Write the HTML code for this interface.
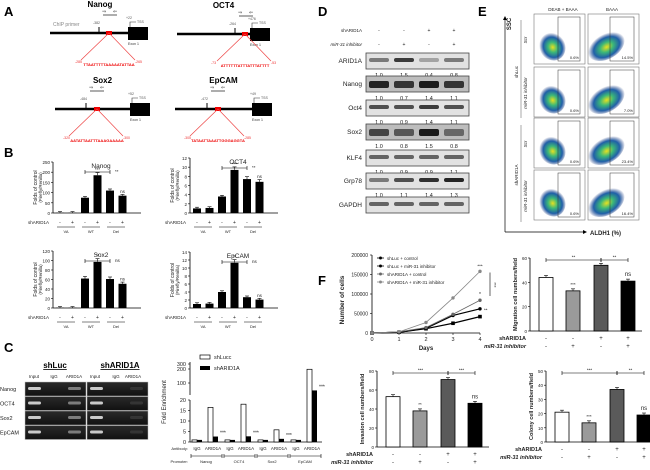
<!DOCTYPE html>
<html><head><meta charset="utf-8">
<style>
body{margin:0;background:#fff;}
svg{display:block;font-family:"Liberation Sans",sans-serif;}
</style></head><body>
<svg id="fig" width="650" height="470" viewBox="0 0 650 470" xmlns="http://www.w3.org/2000/svg">
<defs>
<radialGradient id="blob" cx="50%" cy="55%" r="50%">
<stop offset="0" stop-color="#e8e020"/><stop offset="0.35" stop-color="#3cb878"/><stop offset="0.7" stop-color="#1f5fa8"/><stop offset="1" stop-color="#1f3a80" stop-opacity="0"/>
</radialGradient>
<linearGradient id="gel" x1="0" y1="0" x2="0" y2="1"><stop offset="0" stop-color="#2a2a2a"/><stop offset="1" stop-color="#111"/></linearGradient>
</defs>
<g id="root"></g>
</svg>
<script>
// ---------- data ----------
const bLanes=["-","+","-","+","-","+"];
const bGroups=["VA","WT","Del"];
const nanogVals=[1,1,75,185,110,85];
const oct4Vals=[1,1.1,3.6,9.4,7.4,6.8];
const sox2Vals=[0.5,0.5,62,97,61,51];
const epcamVals=[1,1.1,4,11.3,2.7,2.1];
const cCats=["IgG","ARID1A","IgG","ARID1A","IgG","ARID1A","IgG","ARID1A"];
const cPromoters=["Nanog","OCT4","Sox2","EpCAM"];
const cShLuc=[1,16.5,1,18,1,5.8,1,245];
const cShARID=[1,2.6,1,2.7,1,1.5,1,60];
const blotRows=["ARID1A","Nanog","Oct4","Sox2","KLF4","Grp78","GAPDH"];
const blotNums=[[1.0,1.5,0.4,0.8],[1.0,0.7,1.4,1.1],[1.0,0.9,1.4,1.1],[1.0,0.8,1.5,0.8],[1.0,0.9,0.9,1.1],[1.0,1.1,1.4,1.3]];
const flowPct=[["0.6%","14.5%"],["0.6%","7.0%"],["0.6%","23.4%"],["0.6%","16.4%"]];
const days=[0,1,2,3,4];
const growthNames=["shLuc + control","shLuc + miR-31 inhibitor","shARID1A + control","shARID1A + miR-31 inhibitor"];
const growthShLucCtrl=[0,2000,12000,45000,62000];
const growthShLucMiR=[0,2000,11000,25000,42000];
const growthShARIDCtrl=[0,3000,14000,48000,84000];
const growthShARIDMiR=[0,3000,27000,90000,158000];
const migVals=[44,33,54,41];
const invVals=[53,38,71,46];
const colVals=[21,13.5,37,19];
const fSh=["-","-","+","+"];
const fMi=["-","+","-","+"];

const NS="http://www.w3.org/2000/svg";
const root=document.getElementById('root');
function el(tag,attrs,parent){const e=document.createElementNS(NS,tag);for(const k in attrs)e.setAttribute(k,attrs[k]);(parent||root).appendChild(e);return e;}
function tx(x,y,s,size,extra,parent){const e=el('text',Object.assign({x:x,y:y,'font-size':size||6,fill:'#222'},extra||{}),parent);e.textContent=s;return e;}
function ln(x1,y1,x2,y2,c,w,parent){return el('line',{x1:x1,y1:y1,x2:x2,y2:y2,stroke:c||'#000','stroke-width':w||1},parent);}

[["A",4,16],["B",4,157],["C",4,352],["D",318,16],["E",478,16],["F",318,285]].forEach(p=>{
 const t=tx(p[1],p[2],p[0],13,{'font-weight':'bold',fill:'#000'});
 
 
});

// ---------- Panel A ----------
function promoter(name,x0,x1,ly,exonX,redX,up,seq,l,r,pos){
 const g=el('g',{});
 
 
 tx((x0+x1)/2,ly-26,name,8,{'font-weight':'bold','text-anchor':'middle',fill:'#000'},g);
 ln(x0,ly,exonX,ly,'#000',2.5,g);
 el('rect',{x:exonX,y:ly-6,width:20,height:13,fill:'#000'},g);
 ln(up,ly,up,ly-6,'#000',1,g);
 tx(up-6,ly-9,pos[0],3.5,{fill:'#555'},g);
 tx(exonX-2,ly-14,pos[1],3.5,{fill:'#555'},g);
 el('polyline',{points:`${exonX+2},${ly-6} ${exonX+2},${ly-11} ${exonX+8},${ly-11}`,fill:'none',stroke:'#333','stroke-width':0.6},g);
 tx(exonX+9,ly-10,'TSS',3.5,{fill:'#555'},g);
 tx(exonX,ly+12,'Exon 1',3.5,{fill:'#333'},g);
 ln(up+4,ly-18,up+18,ly-18,'#333',0.8,g);
 tx(up+3,ly-20,'⇒',5,{fill:'#333'},g);tx(up+14,ly-20,'⇐',5,{fill:'#333'},g);
 el('rect',{x:redX-3,y:ly-2,width:6,height:4,fill:'#e00'},g);
 ln(redX,ly,redX-28,ly+27,'#e44',0.7,g);ln(redX,ly,redX+26,ly+27,'#e44',0.7,g);
 tx(redX-34,ly+30,l,3.5,{fill:'#e33'},g);tx(redX+26,ly+30,r,3.5,{fill:'#e33'},g);
 tx(redX,ly+33,seq,4,{fill:'#e00','text-anchor':'middle','font-weight':'bold'},g);
}
tx(53,26,'ChIP primer',5,{fill:'#888'});
promoter('Nanog',50,150,33,128,109,99,'TTAATTTTTAAAAATATTAA','-285','-265',['-382','+22']);
promoter('OCT4',177,270,34,250,245,235,'ATTTTTTATTTATTTATTTT','-73','-53',['-264','+476']);
promoter('Sox2',55,150,109,130,97,86,'AATATTAATTTAAAGAAAAA','-320','-300',['-484','+52']);
promoter('EpCAM',175,272,109,252,218,207,'TATAATTAAATTGGGAGGTA','-305','-285',['-472','+49']);

// ---------- Panel B ----------
function bChart(name,vals,ax,yTop,yBot,max,ticks,title,sig,xs){
 const g=el('g',{});
 
 
 const y=v=>yBot-(v/max)*(yBot-yTop);
 ln(ax,yTop,ax,yBot,'#000',0.8,g);ln(ax,yBot,ax+88,yBot,'#000',0.8,g);
 ticks.forEach(t=>{ln(ax-2,y(t),ax,y(t),'#000',0.6,g);tx(ax-3,y(t)+2,String(t),4.5,{'text-anchor':'end'},g);});
 tx(0,0,'Folds of control',5,{'text-anchor':'middle',transform:`translate(${ax-16},${(yTop+yBot)/2}) rotate(-90)`},g);
 tx(0,0,'(Firefly/Renilla)',4.5,{'text-anchor':'middle',transform:`translate(${ax-11},${(yTop+yBot)/2}) rotate(-90)`},g);
 tx(ax+48,yTop+6,title,6.5,{'text-anchor':'middle'},g);
 vals.forEach((v,i)=>{
  const cx=ax+7+i*12.5;
  const r=el('rect',{x:cx-4,y:y(v),width:8,height:yBot-y(v),fill:'#000'},g);
  
  
  const e=Math.max(1.2,(yBot-y(v))*0.07);
  ln(cx,y(v)-e,cx,y(v),'#000',0.6,g);ln(cx-2,y(v)-e,cx+2,y(v)-e,'#000',0.6,g);
  if(sig[i])tx(cx,y(v)-e-1.5,sig[i],4.5,{'text-anchor':'middle'},g);
 });
 const bx1=ax+7+2*12.5,bx2=ax+7+4*12.5;
 const by=yTop+10;
 ln(bx1,by,bx2,by,'#000',0.6,g);ln(bx1,by-2,bx1,by+2,'#000',0.6,g);ln(bx2,by-2,bx2,by+2,'#000',0.6,g);
 tx(bx2+5,by+1,xs,4.5,{},g);
 tx(ax-4,yBot+11,'shARID1A',4.5,{'text-anchor':'end'},g);
 bLanes.forEach((s,i)=>tx(ax+7+i*12.5,yBot+11,s,5,{'text-anchor':'middle'},g));
 bGroups.forEach((gname,j)=>{const cx=ax+13+j*25;ln(cx-9,yBot+14,cx+9,yBot+14,'#000',0.5,g);tx(cx,yBot+20,gname,4,{'text-anchor':'middle'},g);});
}
bChart('nanog',nanogVals,53,162,213,250,[0,50,100,150,200,250],'Nanog',['','','','***','','ns'],'**');
bChart('oct4',oct4Vals,190,158,213,12,[0,2,4,6,8,10,12],'OCT4',['','','','***','','ns'],'**');
bChart('sox2',sox2Vals,53,251,308,120,[0,20,40,60,80,100,120],'Sox2',['','','','**','','ns'],'ns');
bChart('epcam',epcamVals,190,252,308,14,[0,2,4,6,8,10,12,14],'EpCAM',['','','','**','','ns'],'ns');

// ---------- Panel C gels ----------
tx(55,368,'shLuc',8,{'font-weight':'bold','text-anchor':'middle','text-decoration':'underline',fill:'#000'});
tx(120,368,'shARID1A',8,{'font-weight':'bold','text-anchor':'middle','text-decoration':'underline',fill:'#000'});
["Input","IgG","ARID1A","Input","IgG","ARID1A"].forEach((s,i)=>tx([34,54,74,95,116,133][i],378,s,4.5,{'text-anchor':'middle'}));
["Nanog","OCT4","Sox2","EpCAM"].forEach((s,r)=>{
 tx(0,391+r*14.5,s,5.5,{});
 [25,87].forEach((gx,k)=>{
  const g=el('rect',{x:gx,y:382+r*14.5,width:61,height:14,fill:'url(#gel)',stroke:'#bbb','stroke-width':0.5});
  
  
  const inten=k===0?[0.9,0,0.5]:[0.9,0,0.12];
  inten.forEach((a,j)=>{if(a>0)el('rect',{x:gx+3+j*20,y:387+r*14.5,width:13,height:3,rx:1.5,fill:'#fff',opacity:a*0.85});});
 });
});
(function(){
 const g=el('g',{});
 
 
 const y=v=>v<=20?442-v*42/20:395-(v-20)/280*32;
 ln(190,362,190,395,'#000',0.8,g);ln(190,400,190,442,'#000',0.8,g);ln(190,442,322,442,'#000',0.8,g);
 [0,5,10,15,20].forEach(t=>{ln(188,y(t),190,y(t),'#000',0.6,g);tx(186,y(t)+2,String(t),5.5,{'text-anchor':'end'},g);});
 [[100,383],[200,369],[300,364]].forEach(t=>{ln(188,t[1],190,t[1],'#000',0.6,g);tx(186,t[1]+2,String(t[0]),5.5,{'text-anchor':'end'},g);});
 tx(0,0,'Fold Enrichment',6,{'text-anchor':'middle',transform:'translate(166,402) rotate(-90)'},g);
 cCats.forEach((c,i)=>{
  const grp=Math.floor(i/2), cx=197+grp*33+(i%2)*16;
  const a=el('rect',{x:cx-5,y:y(cShLuc[i]),width:5,height:442-y(cShLuc[i]),fill:'#fff',stroke:'#000','stroke-width':0.7},g);
  
  
  const b=el('rect',{x:cx,y:y(cShARID[i]),width:5,height:442-y(cShARID[i]),fill:'#000'},g);
  
  
  if(i%2===1)tx(cx+7,y(cShARID[i])-2,'***',5,{},g);
  tx(cx,450,c,4.5,{'text-anchor':'middle'},g);
 });
 tx(188,450,'Antibody:',4,{'text-anchor':'end'},g);
 tx(188,463,'Promoter:',4,{'text-anchor':'end'},g);
 cPromoters.forEach((p,j)=>{const x=191+j*33;ln(x,456,x+31,456,'#000',0.6,g);ln(x,454,x,458,'#000',0.6,g);ln(x+31,454,x+31,458,'#000',0.6,g);tx(x+15,463,p,4,{'text-anchor':'middle'},g);});
 el('rect',{x:200,y:355,width:10,height:4,fill:'#fff',stroke:'#000','stroke-width':0.7},g);tx(214,359,'shLucc',5.5,{},g);
 el('rect',{x:200,y:366,width:10,height:4,fill:'#000'},g);tx(214,370,'shARID1A',5.5,{},g);
})();

// ---------- Panel D ----------
tx(362,32,'shARID1A',4.5,{'text-anchor':'end'});
tx(362,46,'miR-31 inhibitor',4.5,{'text-anchor':'end','font-style':'italic'});
const lanesX=[379,404,429,454];
[["-","-","+","+"],["-","+","-","+"]].forEach((r,k)=>r.forEach((s,i)=>tx(lanesX[i],k?46:32,s,5,{'text-anchor':'middle'})));
const blotY=[53,76,100,124,150,173,197];
const bandDark=[[0.5,0.8,0.3,0.5],[0.9,0.8,0.95,0.8],[0.7,0.7,0.8,0.7],[0.7,0.6,0.95,0.5],[0.6,0.6,0.6,0.6],[0.5,0.7,0.85,0.9],[0.6,0.6,0.6,0.6]];
blotRows.forEach((n,r)=>{
 tx(362,blotY[r]+10,n,6.5,{'text-anchor':'end'});
 const b=el('rect',{x:366,y:blotY[r],width:103,height:16,fill:r===1||r===3?'#bdbdbd':'#e2e2e2',stroke:'#444','stroke-width':0.8});
 
 
 lanesX.forEach((x,i)=>el('rect',{x:x-10,y:blotY[r]+5,width:20,height:r===1||r===3?7:4,rx:2,fill:'#111',opacity:bandDark[r][i]}));
 if(r<6)blotNums[r].forEach((v,i)=>tx(lanesX[i],blotY[r]+24,v.toFixed(1),5.5,{'text-anchor':'middle'}));
});

// ---------- Panel E ----------
tx(563,11,'DEAB + BAAA',4.5,{'text-anchor':'middle'});
tx(612,11,'BAAA',4.5,{'text-anchor':'middle'});
ln(505,232,583,232,'#000',0.7);el('polygon',{points:'583,230 587,232 583,234',fill:'#000'});
ln(505,232,505,20,'#000',0.7);el('polygon',{points:'503,20 505,16 507,20',fill:'#000'});
tx(0,0,'SSC',6,{'font-weight':'bold','text-anchor':'middle',transform:'translate(511,24) rotate(-90)'});
tx(590,235,'ALDH1 (%)',6,{'font-weight':'bold'});
const rowsY=[14,67,118,170];
["Scr","miR-31 inhibitor","Scr","miR-31 inhibitor"].forEach((s,r)=>tx(0,0,s,4.5,{'text-anchor':'middle','font-style':'italic',transform:`translate(527,${rowsY[r]+26}) rotate(-90)`}));
tx(0,0,'shLuc',4.5,{'text-anchor':'middle',transform:'translate(518,72) rotate(-90)'});
tx(0,0,'shARID1A',4.5,{'text-anchor':'middle',transform:'translate(518,175) rotate(-90)'});
ln(521,20,521,118,'#555',0.5);ln(521,125,521,222,'#555',0.5);
rowsY.forEach((yy,r)=>[534,588].forEach((xx,c)=>{
 const p=el('rect',{x:xx,y:yy,width:51,height:50,fill:'#fff',stroke:'#777','stroke-width':0.6});
 
 
 el('ellipse',{cx:xx+18,cy:yy+32,rx:c?20:13,ry:c?13:15,fill:'url(#blob)',transform:`rotate(-30 ${xx+18} ${yy+32})`});
 el('rect',{x:xx+(c?22:24),y:yy+3,width:(c?24:22),height:44,fill:'none',stroke:'#333','stroke-width':0.5});
 tx(xx+45,yy+45,flowPct[r][c],4,{'text-anchor':'end'});
}));

// ---------- Panel F growth ----------
(function(){
 const g=el('g',{});
 
 
 const X=d=>372+d*27,Y=v=>333-v/200000*78;
 ln(372,255,372,333,'#000',0.8,g);ln(372,333,480,333,'#000',0.8,g);
 [0,50000,100000,150000,200000].forEach(t=>{ln(370,Y(t),372,Y(t),'#000',0.6,g);tx(368,Y(t)+2,String(t),5,{'text-anchor':'end'},g);});
 days.forEach(d=>{ln(X(d),333,X(d),335,'#000',0.6,g);tx(X(d),341,String(d),5.5,{'text-anchor':'middle'},g);});
 tx(426,350,'Days',6,{'text-anchor':'middle','font-weight':'bold'},g);
 tx(0,0,'Number of cells',6.5,{'text-anchor':'middle','font-weight':'bold',transform:'translate(344,300) rotate(-90)'},g);
 const series=[growthShLucCtrl,growthShLucMiR,growthShARIDCtrl,growthShARIDMiR];
 const cols=['#000','#000','#666','#888'];
 series.forEach((s,k)=>{
  const pl=el('polyline',{points:s.map((v,i)=>X(days[i])+','+Y(v)).join(' '),fill:'none',stroke:cols[k],'stroke-width':k<2?1.2:0.8},g);
  
  
  s.forEach((v,i)=>{
   if(k===1)el('rect',{x:X(days[i])-1.8,y:Y(v)-1.8,width:3.6,height:3.6,fill:cols[k]},g);
   else el('circle',{cx:X(days[i]),cy:Y(v),r:1.7,fill:cols[k]},g);
  });
  ln(377,258+k*8,384,258+k*8,cols[k],0.8,g);el('circle',{cx:380.5,cy:258+k*8,r:1.5,fill:cols[k]},g);
  tx(387,260+k*8,growthNames[k],4.5,{},g);
 });
 tx(X(4),Y(158000)-4,'***',4.5,{'text-anchor':'middle'},g);
 tx(X(4),Y(84000)-4,'*',5,{'text-anchor':'middle'},g);
 tx(X(4)+4,Y(55000),'**',4.5,{},g);
 ln(490,Y(155000),490,Y(95000),'#000',0.6,g);
 tx(0,0,'***',4.5,{transform:`translate(493,${Y(130000)}) rotate(90)`},g);
})();

// ---------- Panel F bars ----------
function fChart(name,vals,ax,yTop,yBot,max,ticks,ylab,sigs,brk){
 const g=el('g',{});
 
 
 const y=v=>yBot-v/max*(yBot-yTop);
 ln(ax,yTop,ax,yBot,'#000',0.8,g);ln(ax,yBot,ax+112,yBot,'#000',0.8,g);
 ticks.forEach(t=>{ln(ax-2,y(t),ax,y(t),'#000',0.6,g);tx(ax-3,y(t)+2,String(t),4.5,{'text-anchor':'end'},g);});
 tx(0,0,ylab,5.5,{'text-anchor':'middle','font-weight':'bold',transform:`translate(${ax-13},${(yTop+yBot)/2}) rotate(-90)`},g);
 const fills=['#fff','#9a9a9a','#5a5a5a','#000'];
 const cxs=[ax+16,ax+43,ax+71,ax+98];
 vals.forEach((v,i)=>{
  const r=el('rect',{x:cxs[i]-7,y:y(v),width:14,height:yBot-y(v),fill:fills[i],stroke:'#000','stroke-width':0.8},g);
  
  
  ln(cxs[i],y(v)-2,cxs[i],y(v),'#000',0.6,g);ln(cxs[i]-2,y(v)-2,cxs[i]+2,y(v)-2,'#000',0.6,g);
  if(sigs[i])tx(cxs[i],y(v)-5,sigs[i],i===3?6:4.5,{'text-anchor':'middle'},g);
  tx(cxs[i],yBot+9,fSh[i],6,{'text-anchor':'middle'},g);
  tx(cxs[i],yBot+17,fMi[i],6,{'text-anchor':'middle'},g);
 });
 tx(ax-4,yBot+9,'shARID1A',5.5,{'text-anchor':'end','font-weight':'bold'},g);
 tx(ax-4,yBot+17,'miR-31 inhibitor',5.5,{'text-anchor':'end','font-weight':'bold','font-style':'italic'},g);
 const by=yTop+2;
 [[cxs[0],cxs[2],brk[0]],[cxs[2],cxs[3],brk[1]]].forEach(b=>{
  ln(b[0],by,b[1],by,'#000',0.6,g);ln(b[0],by-2,b[0],by+2,'#000',0.6,g);ln(b[1],by-2,b[1],by+2,'#000',0.6,g);
  tx((b[0]+b[1])/2,by-1.5,b[2],4.5,{'text-anchor':'middle'},g);
 });
}
fChart('migration',migVals,530,258,331,60,[0,20,40,60],'Migration cell numbers/field',['','***','','ns'],['**','**']);
fChart('invasion',invVals,377,371,447,80,[0,20,40,60,80],'Invasion cell numbers/field',['','**','','ns'],['***','***']);
fChart('colony',colVals,546,371,442,50,[0,10,20,30,40,50],'Colony cell numbers/field',['','***','','ns'],['***','**']);
</script>
</body></html>
